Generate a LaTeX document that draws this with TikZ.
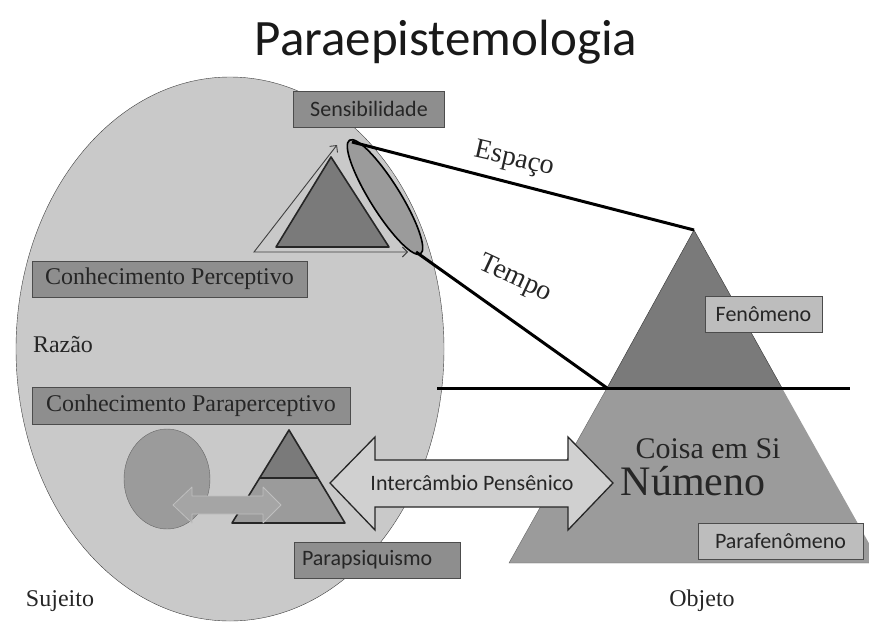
\documentclass[tikz,border=0pt]{standalone}
\usepackage{fontspec}
\setmainfont{Carlito}
\newfontfamily\romfont{Liberation Serif}
\usetikzlibrary{arrows,arrows.meta}

\definecolor{sujeitofill}{HTML}{C9C9C9}
\definecolor{boxfill}{HTML}{8E8E8E}
\definecolor{lightboxfill}{HTML}{BDBDBD}
\definecolor{darkfill}{HTML}{7A7A7A}
\definecolor{midfill}{HTML}{9B9B9B}
\definecolor{arrowfill}{HTML}{D0D0D0}

\begin{document}
\begin{tikzpicture}
[
x=1pt, y=-1pt,
box/.style={rectangle, draw=black!70, fill=boxfill, minimum height=36pt, inner sep=0pt, text=black!85, font=\fontsize{22}{26}\selectfont},
lightbox/.style={box, fill=lightboxfill},
roman/.style={text=black!85, font=\romfont\fontsize{24}{28}\selectfont},
heavy/.style={draw=black, line width=3pt, line join=round},
solid_shape/.style={draw=black!85, line width=1.6pt, line join=round}
]
\useasboundingbox (0,0) rectangle (869,621);

%Shapes
\draw[draw=black!75, fill=sujeitofill, thin] (230,349) ellipse [x radius=214pt, y radius=272pt];

% objeto pyramid
\coordinate (apex)   at (694,230);
\coordinate (fenL)   at (607,388);
\coordinate (fenR)   at (782,388);
\coordinate (baseL)  at (509,563);
\coordinate (baseR)  at (880,563);
\fill[midfill] (fenL) -- (fenR) -- (baseR) -- (baseL) -- cycle;
\draw[draw=black!60, thin] (fenL) -- (baseL) -- (baseR);
\draw[fill=darkfill, draw=black!80, thin] (apex) -- (fenR) -- (fenL) -- cycle;

% perception triangle and lens
\coordinate (arrTop)   at (337,145);
\coordinate (arrCorner) at (254,252);
\coordinate (arrRight) at (408,252);
\draw[<->, >={Straight Barb[length=5pt, width=10pt]}, black!75, line width=0.9pt] (arrTop) -- (arrCorner) -- (arrRight);
\draw[solid_shape, fill=darkfill] (331,157) -- (389,247) -- (276,247) -- cycle;
\draw[solid_shape, draw=black, fill=midfill] (385,197) ellipse [x radius=67pt, y radius=15pt, rotate=-58];
\coordinate (lensTop) at (352,142);
\coordinate (lensBot) at (416,252);

% parapsiquismo pyramid
\coordinate (pyrTop) at (289,430);
\coordinate (pyrL)   at (232,523);
\coordinate (pyrR)   at (345,523);
\coordinate (midL)   at (259.6,478);
\coordinate (midR)   at (317.9,478);
\draw[draw=black!60, fill=midfill] (167,479) ellipse [x radius=43pt, y radius=50pt];
\draw[solid_shape, fill=midfill] (midL) -- (midR) -- (pyrR) -- (pyrL) -- cycle;
\draw[solid_shape, fill=darkfill] (pyrTop) -- (midR) -- (midL) -- cycle;
\draw[fill=midfill!90, draw=white!75!black, thick, line join=round]
  (173,505) -- (192,487) -- (192,496) -- (263,496) -- (263,487) -- (281,505)
  -- (263,523) -- (263,514) -- (192,514) -- (192,523) -- cycle;

% intercambio arrow
\draw[fill=arrowfill, draw=black!85, line width=1.3pt, line join=miter]
  (330,483) -- (375,437) -- (375,460) -- (568,460) -- (568,437) -- (613,483)
  -- (568,530) -- (568,507) -- (375,507) -- (375,530) -- cycle;

%Nodes
\node (title) [anchor=base, text=black!90, font=\fontsize{51}{56}\selectfont] at (446,55) {Paraepistemologia};
\node[box] (sensib) [minimum width=151pt] at (369,109) {Sensibilidade};
\node[box, roman] (perc) [minimum width=275pt, minimum height=36pt] at (169.5,279) {Conhecimento Perceptivo};
\node[box, roman] (paraperc) [minimum width=318pt, minimum height=37pt] at (191,405.5) {Conhecimento Paraperceptivo};
\node[box] (parapsi) [minimum width=166pt, text width=150pt, align=left] at (377,560) {Parapsiquismo};
\node[lightbox] (fenom) [minimum width=117pt] at (763.5,314) {Fenômeno};
\node[lightbox] (parafen) [minimum width=165pt] at (780.5,541) {Parafenômeno};
\node (interc) [text=black!85, font=\fontsize{22}{26}\selectfont] at (472,483) {Intercâmbio Pensênico};
\node[roman] (razao) at (63,345) {Razão};
\node[roman] (sujeito) [anchor=base] at (60,606) {Sujeito};
\node[roman] (objeto) [anchor=base] at (702,606) {Objeto};
\node[roman, font=\romfont\fontsize{30}{34}\selectfont] (coisa) [anchor=base] at (708,458) {Coisa em Si};
\node[roman, font=\romfont\fontsize{42}{46}\selectfont] (numeno) [anchor=base] at (693,495) {Númeno};
\node[roman, font=\romfont\fontsize{28}{32}\selectfont, rotate=-13] (espaco) at (514,160) {Espaço};
\node[roman, font=\romfont\fontsize{28}{32}\selectfont, rotate=-25] (tempo) at (515,279) {Tempo};

%Lines
\draw[heavy] (lensTop) -- (apex);
\draw[heavy] (lensBot) -- (fenL);
\coordinate (horizL) at (437,388);
\coordinate (horizR) at (850,388);
\draw[heavy] (horizL) -- (horizR);
\end{tikzpicture}
\end{document}
